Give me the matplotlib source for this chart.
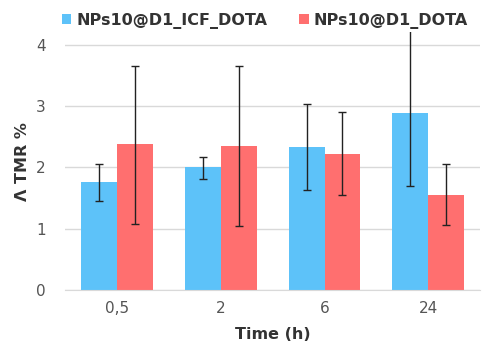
import matplotlib
matplotlib.use("Agg")
import matplotlib.pyplot as plt
import numpy as np

times = ["0,5", "2", "6", "24"]
icf_vals = [1.76, 2.00, 2.33, 2.89]
icf_low = [1.45, 1.81, 1.63, 1.70]
icf_high = [2.05, 2.17, 3.04, 4.30]
dota_vals = [2.38, 2.35, 2.22, 1.55]
dota_low = [1.08, 1.05, 1.55, 1.06]
dota_high = [3.66, 3.66, 2.91, 2.05]
labels = ["NPs10@D1_ICF_DOTA", "NPs10@D1_DOTA"]

blue = "#5DC2F9"
red = "#FF6F6F"

fig = plt.figure(figsize=(4.86, 3.61), dpi=100)
ax = fig.add_axes([0.134, 0.197, 0.854, 0.713])

x = np.arange(len(times))
w = 0.346
for vals, lo, hi, off, col, lab in [
        (icf_vals, icf_low, icf_high, -w / 2, blue, labels[0]),
        (dota_vals, dota_low, dota_high, w / 2, red, labels[1])]:
    vals = np.array(vals)
    yerr = [vals - np.array(lo), np.array(hi) - vals]
    ax.bar(x + off, vals, w, color=col, label=lab, zorder=2)
    ax.errorbar(x + off, vals, yerr=yerr, fmt="none", ecolor="#222222",
                elinewidth=1, capsize=3, capthick=1, zorder=3)

# plot area goes a bit above the top gridline, the long error bar is cut there
ax.set_xlim(-0.5, 3.5)
ax.set_ylim(0, 4.2)
ax.set_yticks([0, 1, 2, 3, 4])
ax.set_xticks(x)
ax.set_xticklabels(times)
ax.grid(axis="y", color="#d9d9d9", linewidth=1, zorder=0)
for s in ["top", "right", "left"]:
    ax.spines[s].set_visible(False)
ax.spines["bottom"].set_color("#d9d9d9")
ax.tick_params(length=0, labelsize=11, colors="#555555", pad=8)
ax.tick_params(axis="y", pad=14)

ax.set_xlabel("Time (h)", fontsize=11.5, fontweight="bold", color="#333333", labelpad=8)
ax.set_ylabel("Λ TMR %", fontsize=11.5, fontweight="bold", color="#333333", labelpad=4)

leg = fig.legend(loc="upper center", bbox_to_anchor=(0.545, 1.005), ncol=2, frameon=False,
                 prop={"weight": "bold", "size": 11.5}, handlelength=0.6, handleheight=0.6,
                 handletextpad=0.3, columnspacing=2.0)
for t in leg.get_texts():
    t.set_color("#333333")

fig.savefig("out.png", dpi=100)
